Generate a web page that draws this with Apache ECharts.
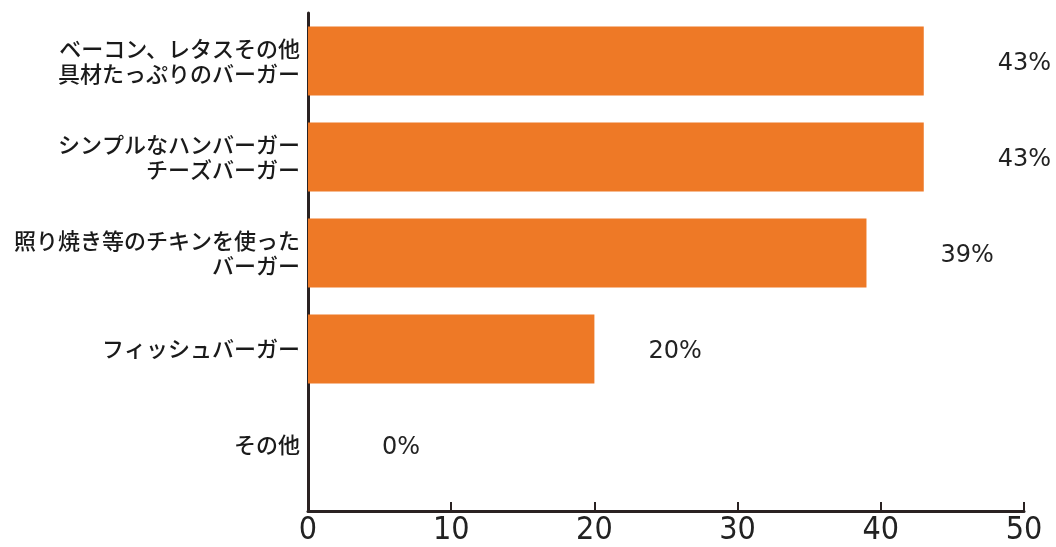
<!DOCTYPE html>
<html>
<head>
<meta charset="utf-8">
<script src="https://cdn.jsdelivr.net/npm/echarts@6/dist/echarts.min.js"></script>
<style>
html,body{margin:0;padding:0;background:#fff;}
#chart{width:1056px;height:547px;}
</style>
</head>
<body>
<div id="chart"></div>
<script>
var categories = [
  "ベーコン、レタスその他\n具材たっぷりのバーガー",
  "シンプルなハンバーガー\nチーズバーガー",
  "照り焼き等のチキンを使った\nバーガー",
  "フィッシュバーガー",
  "その他"
];
var values = [43, 43, 39, 20, 0];
var xTicks = [0, 10, 20, 30, 40, 50];

var chart = echarts.init(document.getElementById('chart'));
var axisColor = '#2a2222';
var option = {
  backgroundColor: '#ffffff',
  animation: false,
  grid: [
    {left: 308, right: 32, top: 13, bottom: 54},
    {left: 308, right: 32, top: 13, bottom: 34}
  ],
  xAxis: [
    {gridIndex: 0, type: 'value', min: xTicks[0], max: xTicks[xTicks.length-1], interval: 10, show: false},
    {gridIndex: 1, type: 'value', min: xTicks[0], max: xTicks[xTicks.length-1], interval: 10,
      axisLine: {show: true, lineStyle: {color: axisColor, width: 3}},
      axisTick: {show: true, inside: true, length: 9, lineStyle: {color: axisColor, width: 2}},
      axisLabel: {color: '#222', fontSize: 32, margin: 4, fontFamily: '"Liberation Sans Narrow", "DejaVu Sans Condensed", sans-serif'},
      splitLine: {show: false}
    }
  ],
  yAxis: [
    {gridIndex: 0, type: 'category', data: categories, inverse: true,
      axisLine: {show: false}, axisTick: {show: false}, splitLine: {show: false},
      axisLabel: {color: '#1a1a1a', fontSize: 22, lineHeight: 25, margin: 8, align: 'right',
        fontWeight: 500, fontFamily: '"Noto Sans CJK JP", sans-serif'}
    },
    {gridIndex: 1, type: 'value', min: 0, max: 1,
      axisLine: {show: true, lineStyle: {color: axisColor, width: 3}},
      axisTick: {show: false}, axisLabel: {show: false}, splitLine: {show: false}
    }
  ],
  series: [{
    type: 'bar',
    xAxisIndex: 0, yAxisIndex: 0,
    data: values.map(function(v, i){
      var d = {value: v};
      if (v === 20) d.label = {distance: 54};
      return d;
    }),
    barWidth: 69,
    itemStyle: {color: '#ee7926'},
    label: {show: true, position: 'right', distance: 74, formatter: '{c}%', color: '#222',
      fontSize: 24, offset: [0, 3], fontFamily: '"DejaVu Sans", sans-serif'}
  }]
};
chart.setOption(option);
</script>
</body>
</html>
